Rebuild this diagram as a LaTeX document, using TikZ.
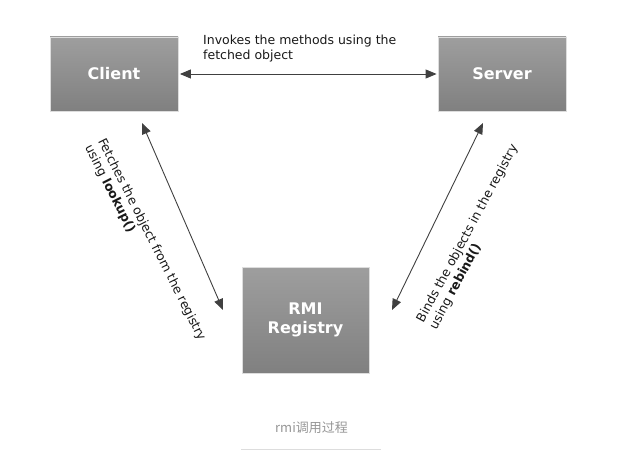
\documentclass[tikz,border=0pt]{standalone}
\usepackage{fontspec}
\setmainfont{DejaVu Sans}
\newfontfamily\cjkfont{Noto Sans CJK SC}
\usetikzlibrary{arrows.meta}
\definecolor{boxtop}{RGB}{158,158,158}
\definecolor{boxbot}{RGB}{128,128,128}
\definecolor{arrowc}{RGB}{64,64,64}
\definecolor{capc}{RGB}{150,150,150}
\definecolor{rulec}{RGB}{221,221,221}
\begin{document}
\begin{tikzpicture}[x=1pt,y=-1pt,
 box/.style={draw=rulec, line width=0.8pt, top color=boxtop, bottom color=boxbot, text=white,
   font=\fontsize{16}{19.5}\selectfont\bfseries, align=center, inner sep=0pt},
 link/.style={draw=arrowc, line width=0.9pt,
   {Triangle[length=11pt,width=9pt]}-{Triangle[length=11pt,width=9pt]}},
 lbl/.style={font=\fontsize{12.5}{14.5}\selectfont, align=left, inner sep=0pt, text=black!90}]
\useasboundingbox (0,0) rectangle (621,452);
\node[box, minimum width=128pt, minimum height=74pt] (client) at (114,74) {Client};
\node[box, minimum width=128pt, minimum height=74pt] (server) at (502,74) {Server};
\node[box, minimum width=127pt, minimum height=106pt] (reg) at (305.5,320) {RMI\\Registry};
\coordinate (l1) at (142,123);
\coordinate (l2) at (223,310);
\coordinate (r1) at (483,123);
\coordinate (r2) at (392,310);
\draw[link, shorten <=1.5pt, shorten >=1pt] (client.east) -- (server.west);
\draw[link] (l1) -- (l2);
\draw[link] (r1) -- (r2);
\node[lbl, anchor=north west] (toptext) at (203,35) {Invokes the methods using the\\fetched object};
\node[lbl, rotate=-63.2] (ltext) at (145,243) {Fetches the object from the registry\\using \textbf{lookup()}};
\node[lbl, rotate=61.8] (rtext) at (474,237) {Binds the objects in the registry\\using \textbf{rebind()}};
\node[font=\cjkfont\fontsize{13}{15}\selectfont, text=capc] (cap) at (311.5,428) {rmi调用过程};
\coordinate (ra) at (241,449);
\coordinate (rb) at (381,449);
\draw[rulec, line width=1pt] (ra) -- (rb);
\end{tikzpicture}
\end{document}
